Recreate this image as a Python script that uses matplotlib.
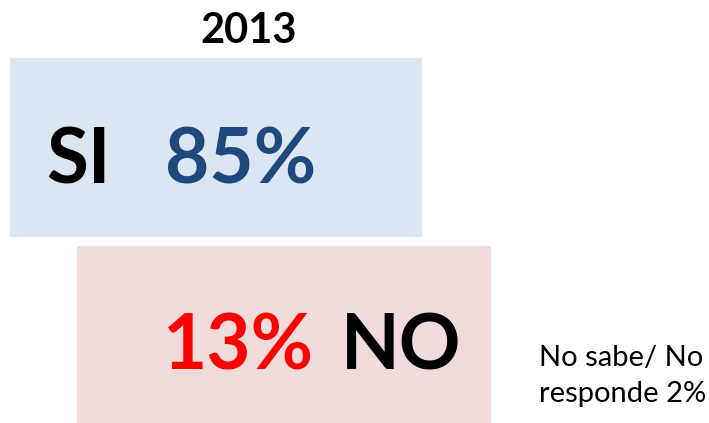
import matplotlib.pyplot as plt
from matplotlib.patches import Rectangle

# data
year = "2013"
labels = ["SI", "NO"]
values = [85, 13]
other_lines = ["No sabe/ No", "responde"]
other_value = 2

plt.rcParams['font.family'] = ['Lato', 'DejaVu Sans']

fig = plt.figure(figsize=(7.09, 4.23), dpi=100)
ax = fig.add_axes([0, 0, 1, 1])
ax.set_xlim(0, 709)
ax.set_ylim(423, 0)
ax.axis('off')

# boxes
ax.add_patch(Rectangle((10, 58), 412, 179, facecolor='#dce6f2', edgecolor='none'))
ax.add_patch(Rectangle((77, 246), 414, 180, facecolor='#f2dcdb', edgecolor='none'))

ax.text(249, 43, year, ha='center', va='baseline', fontsize=30, fontweight='bold')

big = 55
# SI row
ax.text(46, 183, labels[0], ha='left', va='baseline', fontsize=big, fontweight='bold', color='black')
ax.text(165, 183, f"{values[0]}%", ha='left', va='baseline', fontsize=big, fontweight='bold', color='#1f497d')

# NO row
ax.text(163, 370, f"{values[1]}%", ha='left', va='baseline', fontsize=big, fontweight='bold', color='#ff0000')
ax.text(341, 370, labels[1], ha='left', va='baseline', fontsize=big, fontweight='bold', color='black')

ax.text(539, 366, other_lines[0], ha='left', va='baseline', fontsize=21)
ax.text(539, 402, f"{other_lines[1]} {other_value}%", ha='left', va='baseline', fontsize=21)

fig.savefig("out.png", dpi=100)
